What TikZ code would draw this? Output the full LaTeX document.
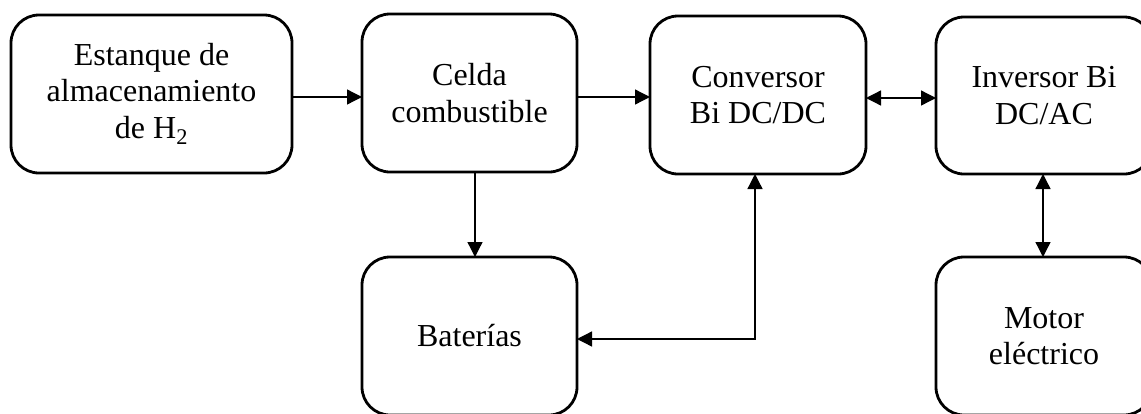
\documentclass[tikz,border=0pt]{standalone}
\usepackage{fontspec}
\setmainfont{Liberation Serif}
\usetikzlibrary{arrows.meta}
\begin{document}
\begin{tikzpicture}[x=1pt,y=-1pt,
  blk/.style={draw, line width=2.8pt, rounded corners=28pt, align=center,
    font=\fontsize{32}{36.5}\selectfont, inner sep=0pt, outer sep=0pt},
  con/.style={line width=1.3pt, -{Triangle[length=15pt,width=15pt]}},
  bicon/.style={line width=1.3pt, {Triangle[length=15pt,width=15pt]}-{Triangle[length=15pt,width=15pt]}}]
\clip (0,0) rectangle (1141,413);
\node[blk, minimum width=281pt, minimum height=158pt] (tank) at (151.5,94)
  {Estanque de\\almacenamiento\\de H\textsubscript{2}};
\node[blk, minimum width=215pt, minimum height=158pt] (cell) at (469.5,93)
  {Celda\\combustible};
\node[blk, minimum width=216pt, minimum height=158pt] (conv) at (758,95)
  {Conversor\\Bi DC/DC};
\node[blk, minimum width=216pt, minimum height=157pt] (inv) at (1044,95.5)
  {Inversor Bi\\DC/AC};
\node[blk, minimum width=215pt, minimum height=158pt] (bat) at (469.5,336)
  {Baterías};
\node[blk, minimum width=216pt, minimum height=158pt] (mot) at (1044,336)
  {Motor\\eléctrico};
\coordinate (y97) at (0,97);
\coordinate (y98) at (0,98);
\coordinate (y339) at (0,339);
\coordinate (x475) at (475,0);
\coordinate (x755) at (755,0);
\coordinate (x1043) at (1043,0);
\draw[con] (tank.east |- y97) -- (cell.west |- y97);
\draw[con] (cell.east |- y97) -- (conv.west |- y97);
\draw[bicon] (conv.east |- y98) -- (inv.west |- y98);
\draw[con] (cell.south -| x475) -- (bat.north -| x475);
\draw[bicon] (bat.east |- y339) -| (conv.south -| x755);
\draw[bicon] (inv.south -| x1043) -- (mot.north -| x1043);
\end{tikzpicture}
\end{document}
